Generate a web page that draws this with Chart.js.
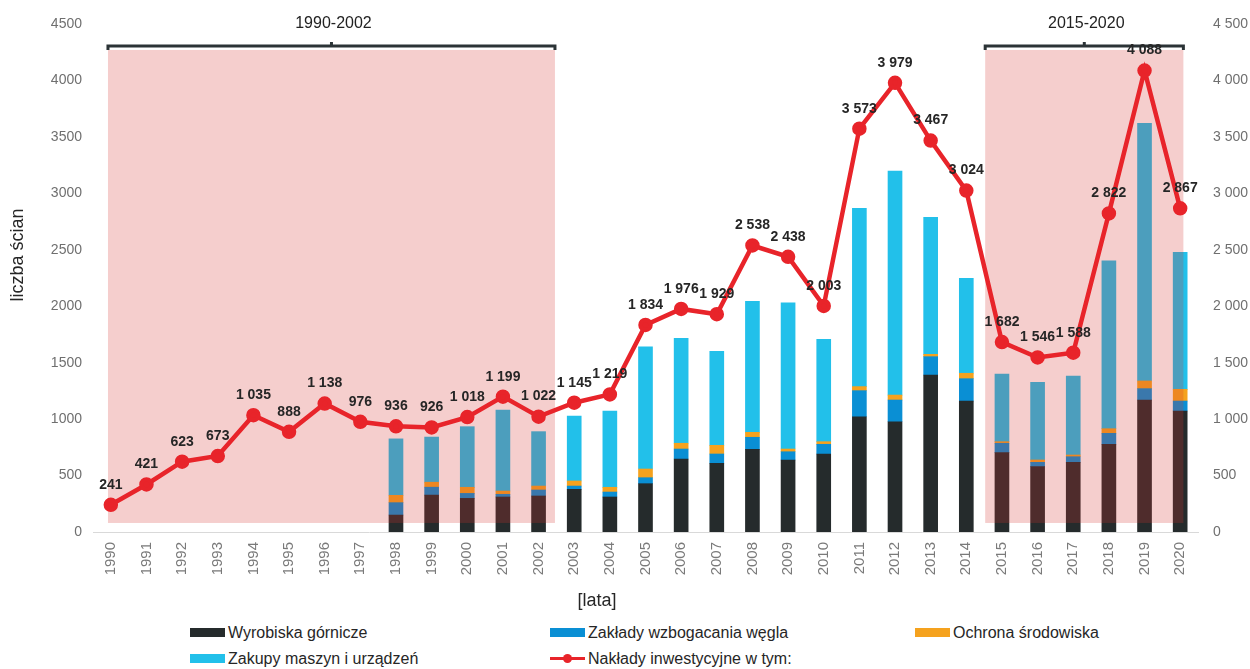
<!DOCTYPE html>
<html>
<head>
<meta charset="utf-8">
<script src="https://cdn.jsdelivr.net/npm/chart.js@4/dist/chart.umd.min.js"></script>
<style>
  body { margin: 0; background: #fff; width: 1250px; height: 669px; overflow: hidden; position: relative; }
  #wrap { position: absolute; left: 0; top: 0; width: 1250px; height: 615px; }
  .leg { position: absolute; font-family: "Liberation Sans Narrow", "Arial Narrow", "Liberation Sans", sans-serif; font-size: 16px; color: #262626; white-space: nowrap; line-height: 18px; }
  .leg .box { display: inline-block; width: 35px; height: 9px; vertical-align: middle; margin-right: 3px; position: relative; top: -1px; }
  .leg .ln { display: inline-block; width: 35px; height: 3px; background: #e8242a; vertical-align: middle; margin-right: 3px; position: relative; top: -1px; }
  .leg .ln::after { content: ""; position: absolute; left: 13px; top: -3px; width: 9px; height: 9px; border-radius: 50%; background: #e8242a; }
</style>
</head>
<body>
<div id="wrap"><canvas id="chart"></canvas></div>
<div id="legend"></div>
<script>
const years = ['1990','1991','1992','1993','1994','1995','1996','1997','1998','1999','2000','2001','2002','2003','2004','2005','2006','2007','2008','2009','2010','2011','2012','2013','2014','2015','2016','2017','2018','2019','2020'];
const wyrobiska = [null,null,null,null,null,null,null,null,150,327,298,310,319,378,310,428,647,608,732,638,691,1021,977,1391,1160,703,579,617,777,1169,1072];
const zaklady = [null,null,null,null,null,null,null,null,110,70,44,24,53,29,44,53,88,83,107,73,86,231,192,162,198,83,38,50,97,101,88];
const ochrona = [null,null,null,null,null,null,null,null,65,44,54,29,35,45,42,77,51,77,44,24,23,36,44,21,48,14,21,15,41,68,104];
const zakupy = [null,null,null,null,null,null,null,null,500,400,537,717,482,575,676,1083,930,832,1160,1296,907,1579,1985,1213,841,599,688,700,1488,2282,1213];
const naklady = [241,421,623,673,1035,888,1138,976,936,926,1018,1199,1022,1145,1219,1834,1976,1929,2538,2438,2003,3573,3979,3467,3024,1682,1546,1588,2822,4088,2867];
const yTicks = [0,500,1000,1500,2000,2500,3000,3500,4000,4500];

// highlighted periods: [first index, last index, label]
const periods = [
  { from: -0.08, to: 12.46, label: '1990-2002' },
  { from: 24.53, to: 30.09, label: '2015-2020' }
];

const colors = {
  wyrobiska: '#252b2c',
  zaklady: '#0a8fd4',
  ochrona: '#f5a21e',
  zakupy: '#22c0ea',
  naklady: '#e8242a'
};
const FONT = '"Liberation Sans", Arial, sans-serif';

function fmtSpace(v) {
  return String(v).replace(/\B(?=(\d{3})+(?!\d))/g, ' ');
}

function xAt(scale, idx) {
  const i0 = Math.floor(idx);
  const p0 = scale.getPixelForValue(i0);
  const p1 = scale.getPixelForValue(i0 + 1);
  return p0 + (p1 - p0) * (idx - i0);
}

// pink shading drawn over the bars but under the line
const shadePlugin = {
  id: 'shade',
  beforeDatasetDraw(chart, args) {
    if (chart.data.datasets[args.index].type !== 'line') return;
    const ctx = chart.ctx;
    const x = chart.scales.x, y = chart.scales.y;
    ctx.save();
    periods.forEach(p => {
      const x0 = xAt(x, p.from), x1 = xAt(x, p.to);
      const yTop = y.getPixelForValue(4270), yBot = y.getPixelForValue(80);
      ctx.fillStyle = 'rgba(214, 52, 44, 0.24)';
      ctx.fillRect(x0, yTop, x1 - x0, yBot - yTop);
      // bracket
      const yb = y.getPixelForValue(4305);
      ctx.strokeStyle = '#2b3336';
      ctx.lineWidth = 3;
      ctx.beginPath();
      ctx.moveTo(x0, yb + 4);
      ctx.lineTo(x0, yb);
      ctx.lineTo(x1, yb);
      ctx.lineTo(x1, yb + 4);
      ctx.stroke();
      const xm = (x0 + x1) / 2;
      ctx.beginPath();
      ctx.moveTo(xm, yb);
      ctx.lineTo(xm, yb - 4);
      ctx.stroke();
      ctx.fillStyle = '#222';
      ctx.font = '16px ' + FONT;
      ctx.textAlign = 'center';
      ctx.textBaseline = 'middle';
      ctx.fillText(p.label, xm + 2, y.getPixelForValue(4500));
    });
    ctx.restore();
  },
  afterDatasetsDraw(chart) {
    const ctx = chart.ctx;
    const meta = chart.getDatasetMeta(4);
    ctx.save();
    ctx.font = 'bold 14px ' + FONT;
    ctx.fillStyle = '#262626';
    ctx.textAlign = 'center';
    ctx.textBaseline = 'middle';
    meta.data.forEach((pt, i) => {
      ctx.fillText(fmtSpace(naklady[i]), pt.x, pt.y - 20);
    });
    // axis titles
    ctx.font = '18px ' + FONT;
    ctx.fillStyle = '#262626';
    ctx.fillText('[lata]', 597, 601);
    ctx.translate(18, 255);
    ctx.rotate(-Math.PI / 2);
    ctx.fillText('liczba ścian', 0, 0);
    ctx.restore();
  }
};

const barDs = (label, data, color) => ({
  type: 'bar', label, data, backgroundColor: color, yAxisID: 'y', stack: 's',
  barThickness: 14, order: 1
});

new Chart(document.getElementById('chart'), {
  data: {
    labels: years,
    datasets: [
      barDs('Wyrobiska górnicze', wyrobiska, colors.wyrobiska),
      barDs('Zakłady wzbogacania węgla', zaklady, colors.zaklady),
      barDs('Ochrona środowiska', ochrona, colors.ochrona),
      barDs('Zakupy maszyn i urządzeń', zakupy, colors.zakupy),
      {
        type: 'line', label: 'Nakłady inwestycyjne w tym:', data: naklady, yAxisID: 'y1',
        borderColor: colors.naklady, backgroundColor: colors.naklady, borderWidth: 4.5,
        pointRadius: 5, pointHoverRadius: 5, tension: 0, order: 0
      }
    ]
  },
  options: {
    responsive: true,
    maintainAspectRatio: false,
    animation: false,
    layout: { padding: { top: 24, left: 0, right: 0, bottom: 0 } },
    plugins: { legend: { display: false }, tooltip: { enabled: false } },
    scales: {
      x: {
        stacked: true,
        offset: true,
        grid: { display: false, drawTicks: false },
        border: { color: '#d9d9d9' },
        ticks: { color: '#7a7a7a', font: { size: 15, family: FONT }, minRotation: 90, maxRotation: 90, padding: 10, autoSkip: false },
        afterFit(s) { s.height = 83; }
      },
      y: {
        stacked: true,
        min: 0, max: 4500,
        afterBuildTicks(s) { s.ticks = yTicks.map(v => ({ value: v })); },
        grid: { display: false, drawTicks: false },
        border: { display: false },
        ticks: { color: '#6f6f6f', font: { size: 14, family: FONT }, padding: 11, callback: v => String(v) },
        afterFit(s) { s.width = 93; }
      },
      y1: {
        position: 'right',
        min: 0, max: 4500,
        afterBuildTicks(s) { s.ticks = yTicks.map(v => ({ value: v })); },
        grid: { display: false, drawTicks: false },
        border: { display: false },
        ticks: { color: '#6f6f6f', font: { size: 14, family: FONT }, padding: 15, callback: v => fmtSpace(v) },
        afterFit(s) { s.width = 52; }
      }
    }
  },
  plugins: [shadePlugin]
});

// legend laid out as in the reference (two rows, three columns)
const legendItems = [
  { text: 'Wyrobiska górnicze', color: colors.wyrobiska, left: 190, top: 624 },
  { text: 'Zakłady wzbogacania węgla', color: colors.zaklady, left: 550, top: 624 },
  { text: 'Ochrona środowiska', color: colors.ochrona, left: 915, top: 624 },
  { text: 'Zakupy maszyn i urządzeń', color: colors.zakupy, left: 190, top: 650 },
  { text: 'Nakłady inwestycyjne w tym:', color: colors.naklady, left: 550, top: 650, line: true }
];
const legend = document.getElementById('legend');
legendItems.forEach(it => {
  const d = document.createElement('div');
  d.className = 'leg';
  d.style.left = it.left + 'px';
  d.style.top = it.top + 'px';
  d.innerHTML = (it.line ? '<span class="ln"></span>' : `<span class="box" style="background:${it.color}"></span>`) + it.text;
  legend.appendChild(d);
});
</script>
</body>
</html>
